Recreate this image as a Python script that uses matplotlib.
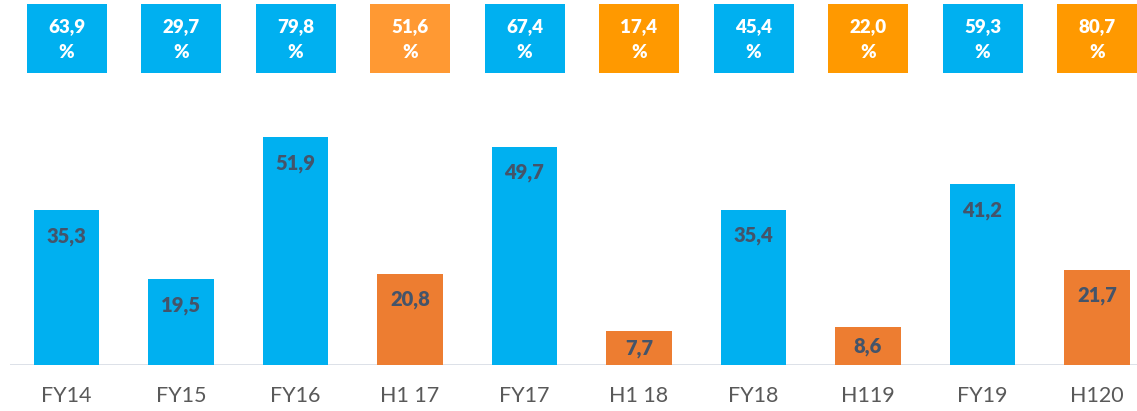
import numpy as np
import matplotlib.pyplot as plt
from matplotlib.patches import Rectangle

periods = ["FY14", "FY15", "FY16", "H1 17", "FY17", "H1 18", "FY18", "H119", "FY19", "H120"]
values = [35.3, 19.5, 51.9, 20.8, 49.7, 7.7, 35.4, 8.6, 41.2, 21.7]
margins = ["63,9", "29,7", "79,8", "51,6", "67,4", "17,4", "45,4", "22,0", "59,3", "80,7"]
half_year = [False, False, False, True, False, True, False, True, False, True]

BLUE = "#00B0F0"
ORANGE_BAR = "#ED7D31"
BOX_ORANGE = ["#FF9933", "#FF9900", "#FF9900", "#FF9900"]
LABEL = "#44546A"

plt.rcParams["font.family"] = ["Lato", "DejaVu Sans"]

W, H = 1137, 411
fig = plt.figure(figsize=(W / 100, H / 100), dpi=100)
ax = fig.add_axes([10 / W, 46 / H, 1127 / W, 365 / H])

step = 114.5          # px between bar centres
px_per_unit = 4.39    # px per value unit
ax.set_xlim(-56.5 / step, -56.5 / step + 1127 / step)
ax.set_ylim(0, 365 / px_per_unit)

def px_y(p):
    # pixel row from top of figure -> data y
    return (365 - p) / px_per_unit

x = np.arange(len(values))
colors = [ORANGE_BAR if h else BLUE for h in half_year]
ax.bar(x, values, width=0.57, color=colors, zorder=2)

for xi, v in zip(x, values):
    ly = max(v - 26 / px_per_unit, v / 2)
    ax.text(xi, ly, f"{v:.1f}".replace(".", ","), ha="center", va="center",
            fontsize=14.5, fontweight="heavy", color=LABEL, zorder=3)

# margin boxes along the top
box_w = 80 / step
k = 0
for xi, m, h in zip(x, margins, half_year):
    if h:
        fc = BOX_ORANGE[k]
        k += 1
    else:
        fc = BLUE
    ax.add_patch(Rectangle((xi - box_w / 2, px_y(73)), box_w, px_y(4) - px_y(73),
                           facecolor=fc, edgecolor="none", clip_on=False))
    ax.text(xi, px_y(27), m, ha="center", va="center", fontsize=13.5,
            fontweight="heavy", color="white")
    ax.text(xi, px_y(52), "%", ha="center", va="center", fontsize=13.5,
            fontweight="heavy", color="white")

ax.axhline(0, color="#D9DEE6", linewidth=2, zorder=1)
for s in ax.spines.values():
    s.set_visible(False)
ax.set_yticks([])
ax.set_xticks(x)
ax.set_xticklabels(periods, fontsize=15.5, color="#595959")
ax.tick_params(axis="x", length=0, pad=15)

fig.savefig("out.png", dpi=100)
